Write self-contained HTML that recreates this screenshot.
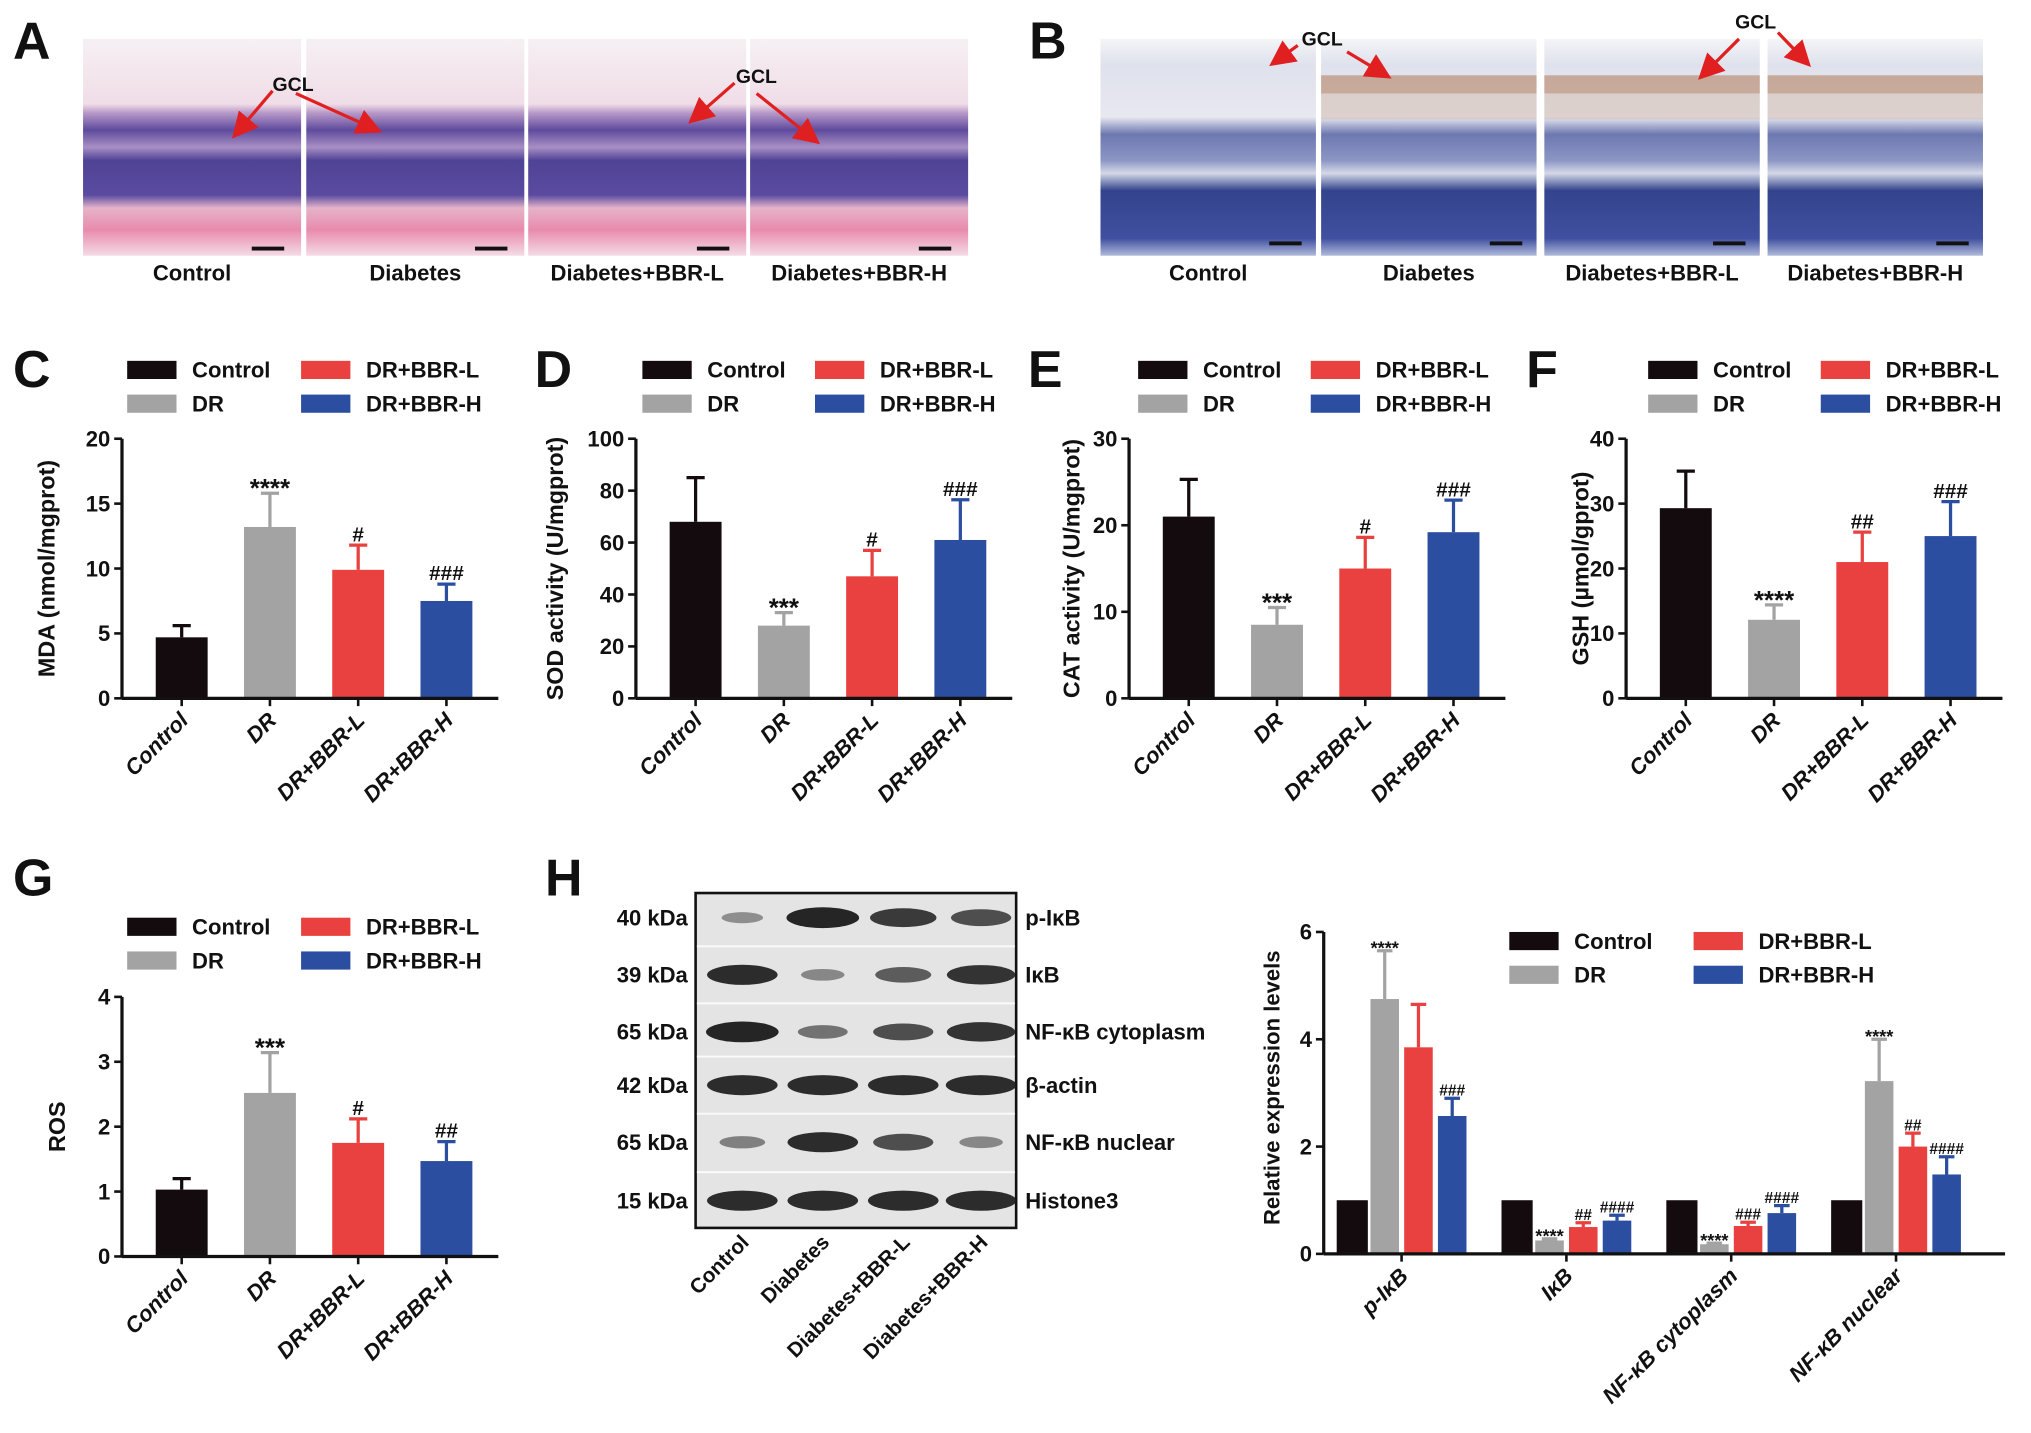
<!DOCTYPE html>
<html><head><meta charset="utf-8"><style>
html,body{margin:0;padding:0;background:#fff}
svg{display:block}
text{font-family:"Liberation Sans",sans-serif;font-weight:bold;fill:#111}
</style></head><body>
<svg id="fig" width="2031" height="1433" viewBox="0 0 1565 1104" preserveAspectRatio="none" xmlns="http://www.w3.org/2000/svg">
<defs>
<linearGradient id="he" x1="0" y1="0" x2="0" y2="1">
<stop offset="0" stop-color="#f6f0f3"/><stop offset="0.3" stop-color="#f0dde7"/>
<stop offset="0.34" stop-color="#b99ac8"/><stop offset="0.42" stop-color="#5f4b9e"/>
<stop offset="0.5" stop-color="#a88fc4"/><stop offset="0.56" stop-color="#4f4396"/>
<stop offset="0.72" stop-color="#5a4ba0"/><stop offset="0.78" stop-color="#e6b3c9"/>
<stop offset="0.88" stop-color="#e88bac"/><stop offset="1" stop-color="#f4dbe6"/></linearGradient>
<linearGradient id="ihc" x1="0" y1="0" x2="0" y2="1">
<stop offset="0" stop-color="#f4f5f7"/><stop offset="0.12" stop-color="#dfe1ec"/>
<stop offset="0.36" stop-color="#e7e8f0"/><stop offset="0.44" stop-color="#6d78b0"/>
<stop offset="0.56" stop-color="#8c96c4"/><stop offset="0.62" stop-color="#d4d8e8"/>
<stop offset="0.7" stop-color="#33438c"/><stop offset="0.92" stop-color="#4050a0"/><stop offset="1" stop-color="#b0b9d9"/></linearGradient>
<marker id="arr" markerWidth="8" markerHeight="8" refX="6" refY="4" orient="auto"><path d="M0,0 L8,4 L0,8 z" fill="#e02020"/></marker>
</defs>
<g id="root"></g>
</svg>
<script>
const NS="http://www.w3.org/2000/svg";
const root=document.getElementById('root');
function el(tag,attrs,parent,txt){const e=document.createElementNS(NS,tag);for(const k in attrs)e.setAttribute(k,attrs[k]);if(txt!==undefined)e.textContent=txt;(parent||root).appendChild(e);return e;}
const COLORS=["#130b0d","#a3a3a3","#e8413f","#2b4ea0"];
const groupNames=["Control","DR","DR+BBR-L","DR+BBR-H"];

// ---- Data arrays ----
const mdaValues=[4.7,13.2,9.9,7.5];
const mdaErrors=[0.9,2.6,1.9,1.3];
const mdaMarks=["","****","#","###"];
const sodValues=[68,28,47,61];
const sodErrors=[17,5,10,15.5];
const sodMarks=["","***","#","###"];
const catValues=[21,8.5,15,19.2];
const catErrors=[4.3,2,3.6,3.7];
const catMarks=["","***","#","###"];
const gshValues=[29.3,12.1,21,25];
const gshErrors=[5.7,2.3,4.6,5.3];
const gshMarks=["","****","##","###"];
const rosValues=[1.03,2.52,1.75,1.47];
const rosErrors=[0.17,0.62,0.37,0.3];
const rosMarks=["","***","#","##"];
const mdaTicks=[0,5,10,15,20];
const sodTicks=[0,20,40,60,80,100];
const catTicks=[0,10,20,30];
const gshTicks=[0,10,20,30,40];
const rosTicks=[0,1,2,3,4];
const hCategories=["p-IκB","IκB","NF-κB cytoplasm","NF-κB nuclear"];
const hControl=[1,1,1,1];
const hDR=[4.75,0.25,0.18,3.22];
const hL=[3.85,0.5,0.52,2.0];
const hH=[2.57,0.62,0.76,1.48];
const hDRerr=[0.9,0.03,0.02,0.78];
const hLerr=[0.8,0.08,0.07,0.25];
const hHerr=[0.33,0.1,0.14,0.33];
const hDRmarks=["****","****","****","****"];
const hLmarks=["","##","###","##"];
const hHmarks=["###","####","####","####"];
const hTicks=[0,2,4,6];
const blotKDa=["40 kDa","39 kDa","65 kDa","42 kDa","65 kDa","15 kDa"];
const blotNames=["p-IκB","IκB","NF-κB cytoplasm","β-actin","NF-κB nuclear","Histone3"];
const blotLanes=["Control","Diabetes","Diabetes+BBR-L","Diabetes+BBR-H"];
const blotIntensity=[[0.25,1,0.85,0.7],[0.95,0.3,0.6,0.9],[1,0.45,0.7,0.9],[0.95,0.95,0.95,0.95],[0.35,0.95,0.7,0.3],[0.95,0.95,0.95,0.95]];

// ---- panel letters ----
[["A",10,45],["B",793,45],["C",10,298],["D",412,298],["E",792,298],["F",1176,298],["G",10,690],["H",420,690]].forEach(l=>{
 const t=el('text',{x:l[1],y:l[2],'font-size':40},root,l[0]);
 
 
});

// ---- histology panels ----
const histLabels=["Control","Diabetes","Diabetes+BBR-L","Diabetes+BBR-H"];
const aX=[64,236,407,578], bX=[848,1018,1190,1362];
aX.forEach((x,i)=>{
 const r=el('rect',{x:x,y:30,width:168,height:167,fill:'url(#he)'});
 
 el('rect',{x:x+130,y:190,width:25,height:3,fill:'#111'});
 const t=el('text',{x:x+84,y:216,'font-size':17,'text-anchor':'middle'},root,histLabels[i]);
 
});
bX.forEach((x,i)=>{
 const r=el('rect',{x:x,y:30,width:166,height:167,fill:'url(#ihc)'});
 
 if(i>0)el('rect',{x:x,y:58,width:166,height:14,fill:'#b07a55',opacity:0.55});
 if(i>0)el('rect',{x:x,y:72,width:166,height:20,fill:'#c9a68d',opacity:0.35});
 el('rect',{x:x+130,y:186,width:25,height:3,fill:'#111'});
 const t=el('text',{x:x+83,y:216,'font-size':17,'text-anchor':'middle'},root,histLabels[i]);
 
});
[[210,70,182,103],[228,72,290,100],[566,64,534,92],[583,72,628,108]].forEach((a,i)=>{
 el('line',{x1:a[0],y1:a[1],x2:a[2],y2:a[3],stroke:'#e02020','stroke-width':2.5,'marker-end':'url(#arr)'});
});
el('text',{x:210,y:70,'font-size':15},root,'GCL');
el('text',{x:567,y:64,'font-size':15},root,'GCL');
[[1000,35,982,48],[1038,40,1068,58],[1340,30,1312,58],[1370,25,1392,48]].forEach(a=>{
 el('line',{x1:a[0],y1:a[1],x2:a[2],y2:a[3],stroke:'#e02020','stroke-width':2.5,'marker-end':'url(#arr)'});
});
el('text',{x:1003,y:35,'font-size':15},root,'GCL');
el('text',{x:1337,y:22,'font-size':15},root,'GCL');

// ---- legend ----
function legend(x,y,id,x2){
 const g=el('g',{});
 const pos=[[x,y],[x,y+26],[x2,y],[x2,y+26]];
 groupNames.forEach((n,i)=>{
  const s=el('rect',{x:pos[i][0],y:pos[i][1]-8,width:38,height:14,fill:COLORS[i]},g);
  
  el('text',{x:pos[i][0]+50,y:pos[i][1]+5,'font-size':17},g,n);
 });
}

// ---- bar chart ----
function barChart(o){
 const g=el('g',{});
 const max=o.ticks[o.ticks.length-1];
 const yS=v=>o.y0-(v/max)*(o.y0-o.yTop);
 const xS=i=>o.ax+46+i*68;
 o.values.forEach((v,i)=>{
  const cx=xS(i),bw=40;
  const top=yS(v+o.errors[i]);
  el('line',{x1:cx,y1:yS(v),x2:cx,y2:top,stroke:COLORS[i],'stroke-width':2.5},g);
  el('line',{x1:cx-7,y1:top,x2:cx+7,y2:top,stroke:COLORS[i],'stroke-width':2.5},g);
  const b=el('rect',{x:cx-bw/2,y:yS(v),width:bw,height:o.y0-yS(v),fill:COLORS[i]},g);
  
  if(o.marks[i])el('text',{x:cx,y:top-3+(o.marks[i][0]=='*'?6:0),'font-size':o.marks[i][0]=='*'?20:16,'text-anchor':'middle'},g,o.marks[i]);
  el('line',{x1:cx,y1:o.y0,x2:cx,y2:o.y0+6,stroke:'#111','stroke-width':2},g);
  const t=el('text',{x:0,y:0,'font-size':17,'font-style':'italic','text-anchor':'end',transform:`translate(${cx+6},${o.y0+18}) rotate(-45)`},g,groupNames[i]);
  
 });
 el('line',{x1:o.ax,y1:o.yTop,x2:o.ax,y2:o.y0,stroke:'#111','stroke-width':2.5},g);
 el('line',{x1:o.ax,y1:o.y0,x2:o.ax+290,y2:o.y0,stroke:'#111','stroke-width':2.5},g);
 o.ticks.forEach(t=>{
  el('line',{x1:o.ax-6,y1:yS(t),x2:o.ax,y2:yS(t),stroke:'#111','stroke-width':2},g);
  el('text',{x:o.ax-9,y:yS(t)+6,'font-size':17,'text-anchor':'end'},g,t);
 });
 const yt=el('text',{x:0,y:0,'font-size':18,'text-anchor':'middle',transform:`translate(${o.titleX},${(o.y0+o.yTop)/2}) rotate(-90)`},g,o.title);
 
}
barChart({id:'mda',ax:94,y0:538,yTop:338,ticks:mdaTicks,values:mdaValues,errors:mdaErrors,marks:mdaMarks,title:'MDA (nmol/mgprot)',titleX:42});
legend(98,286,'mda',232);
barChart({id:'sod',ax:490,y0:538,yTop:338,ticks:sodTicks,values:sodValues,errors:sodErrors,marks:sodMarks,title:'SOD activity (U/mgprot)',titleX:434});
legend(495,286,'sod',628);
barChart({id:'cat',ax:870,y0:538,yTop:338,ticks:catTicks,values:catValues,errors:catErrors,marks:catMarks,title:'CAT activity (U/mgprot)',titleX:832});
legend(877,286,'cat',1010);
barChart({id:'gsh',ax:1253,y0:538,yTop:338,ticks:gshTicks,values:gshValues,errors:gshErrors,marks:gshMarks,title:'GSH (µmol/gprot)',titleX:1224});
legend(1270,286,'gsh',1403);
barChart({id:'ros',ax:94,y0:968,yTop:768,ticks:rosTicks,values:rosValues,errors:rosErrors,marks:rosMarks,title:'ROS',titleX:50});
legend(98,715,'ros',232);

// ---- western blot ----
(function(){
 const g=el('g',{});
 el('rect',{x:536,y:688,width:247,height:258,fill:'#e4e4e4',stroke:'#111','stroke-width':2},g);
 const rowsY=[707,751,795,836,880,925], lanesX=[572,634,696,756];
 rowsY.forEach((y,r)=>{
  if(r>0)el('line',{x1:537,y1:y-22,x2:782,y2:y-22,stroke:'#fafafa','stroke-width':1.5},g);
  lanesX.forEach((x,l)=>{
   const k=blotIntensity[r][l];
   const b=el('ellipse',{cx:x,cy:y,rx:12+16*k,ry:3+5*k,fill:'#1a1a1a',opacity:0.25+0.7*k},g);
   
  });
  el('text',{x:530,y:y+6,'font-size':17,'text-anchor':'end'},g,blotKDa[r]);
  el('text',{x:790,y:y+6,'font-size':17},g,blotNames[r]);
 });
 lanesX.forEach((x,l)=>{
  el('text',{x:0,y:0,'font-size':16,'text-anchor':'end',transform:`translate(${x+6},${958}) rotate(-45)`},g,blotLanes[l]);
 });
})();

// ---- H bar chart ----
(function(){
 const g=el('g',{});
 const ax=1020,y0=966,yTop=718,max=6;
 const yS=v=>y0-(v/max)*(y0-yTop);
 const gx=i=>1030+i*127;
 const series=[hControl,hDR,hL,hH], errs=[null,hDRerr,hLerr,hHerr], marks=[null,hDRmarks,hLmarks,hHmarks];
 hCategories.forEach((c,i)=>{
  series.forEach((s,j)=>{
   const x=gx(i)+j*26, w=j==0?24:22, v=s[i];
   if(errs[j]){
    const top=yS(v+errs[j][i]);
    el('line',{x1:x+w/2,y1:yS(v),x2:x+w/2,y2:top,stroke:COLORS[j],'stroke-width':2.5},g);
    el('line',{x1:x+w/2-6,y1:top,x2:x+w/2+6,y2:top,stroke:COLORS[j],'stroke-width':2.5},g);
    const m=marks[j][i];
    if(m)el('text',{x:x+w/2,y:top-2+(m[0]=='*'?5:0),'font-size':m[0]=='*'?14:12,'text-anchor':'middle'},g,m);
   }
   const b=el('rect',{x:x,y:yS(v),width:w,height:y0-yS(v),fill:COLORS[j]},g);
   
  });
  const tx=gx(i)+50;
  el('line',{x1:tx,y1:y0,x2:tx,y2:y0+6,stroke:'#111','stroke-width':2},g);
  const t=el('text',{x:0,y:0,'font-size':17,'font-style':'italic','text-anchor':'end',transform:`translate(${tx+6},${y0+18}) rotate(-45)`},g,c);
  
 });
 el('line',{x1:ax,y1:yTop,x2:ax,y2:y0,stroke:'#111','stroke-width':2.5},g);
 el('line',{x1:ax,y1:y0,x2:1545,y2:y0,stroke:'#111','stroke-width':2.5},g);
 hTicks.forEach(t=>{
  el('line',{x1:ax-6,y1:yS(t),x2:ax,y2:yS(t),stroke:'#111','stroke-width':2},g);
  el('text',{x:ax-9,y:yS(t)+6,'font-size':17,'text-anchor':'end'},g,t);
 });
 const yt=el('text',{x:0,y:0,'font-size':17,'text-anchor':'middle',transform:`translate(${986},${838}) rotate(-90)`},g,'Relative expression levels');
 
})();
legend(1163,726,'expression',1305);
</script>
</body></html>
